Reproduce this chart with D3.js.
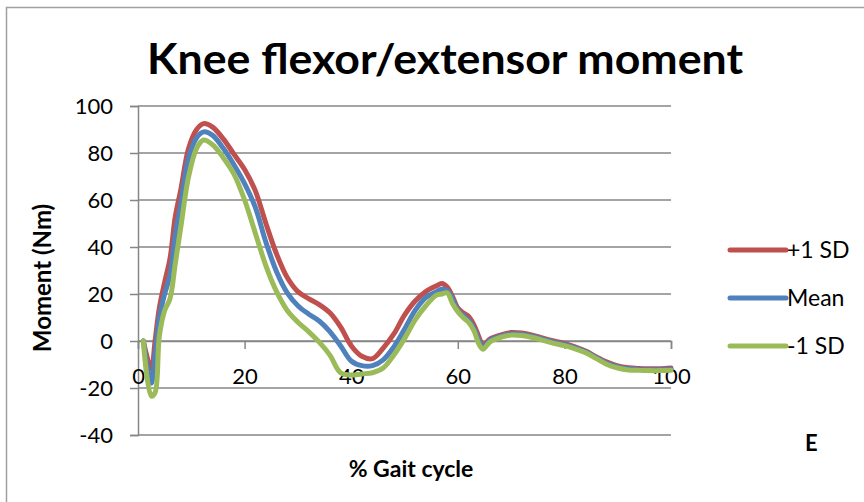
<!DOCTYPE html>
<html>
<head>
<meta charset="utf-8">
<script src="https://cdn.jsdelivr.net/npm/d3@7"></script>
<style>
  body { margin: 0; background: #fff; }
  svg { display: block; font-family: Lato, "Open Sans", sans-serif; }
</style>
</head>
<body>
<div id="chart"></div>
<script>
'use strict';

// % gait cycle sample points (shared by all three series)
const gait = [1, 2.5, 3.2, 4, 5, 6, 7, 8, 9.5, 11, 12.3, 14, 16, 18, 20, 22, 24, 26, 28, 30, 32, 34, 36, 38, 40,
    42, 44, 46, 48, 50, 52, 54, 56, 57, 58, 59, 60, 61, 62, 63, 64, 64.7, 66, 68, 70, 72, 74, 76, 78, 80,
    82, 84, 86, 88, 90, 92, 94, 96, 98, 100];

const plusSD = [0, -12, 0, 14, 25, 35, 53, 64, 82, 90, 92.5, 91, 86, 79.5, 73, 64, 50, 37, 27, 21, 18, 15.5, 12, 6, -2,
    -6.5, -7.5, -3, 3, 11, 17, 21, 23.5, 24.5, 23, 19, 14, 12, 10.5, 7, 1.5, -2, 0.8, 2.5, 3.6, 3.4, 2.5, 1.2, 0, -1,
    -2.5, -4.3, -6.8, -9, -10.6, -11.4, -11.7, -11.8, -11.8, -11.5];

const mean = [0, -18, -6, 10, 20, 28, 45, 58, 78, 86.5, 89, 87.5, 82, 75, 67, 57, 42, 29.5, 20.5, 15, 11.5, 8.5, 4, -2, -8.5,
    -10.5, -10.5, -8, -2.5, 5, 13, 18.5, 21, 22, 21.5, 18, 13, 11, 9, 5.5, 0, -3, 0.3, 2, 3, 2.9, 2, 0.8, -0.5, -1.5,
    -2.9, -4.6, -7.1, -9.5, -11, -11.8, -12.1, -12.2, -12.2, -12];

const minusSD = [0, -23.5, -22, 2, 13, 18, 33, 48, 70, 82, 85.5, 83.5, 78, 71, 60, 46, 32, 21, 13, 8, 4, -0.5, -6, -13.5, -14.5,
    -14, -13.5, -11.5, -6, 1, 9, 15, 19.5, 20, 20.5, 16, 12.5, 10, 8, 4.5, -1.5, -3.5, -0.5, 1.5, 2.5, 2.3, 1.5, 0.3, -1, -2,
    -3.3, -5, -7.5, -10, -11.5, -12.3, -12.5, -12.6, -12.6, -12.5];

const seriesNames = ['+1 SD', 'Mean', '-1 SD'];
const seriesColors = ['#c0504d', '#4f81bd', '#9bbb59'];
const xTicks = [0, 20, 40, 60, 80, 100];
const yTicks = [-40, -20, 0, 20, 40, 60, 80, 100];

const width = 864, height = 502;
const margin = {top: 106, right: 193, bottom: 67, left: 138};

const svg = d3.select('#chart').append('svg')
    .attr('width', width)
    .attr('height', height);

// outer frame (top and left edges only are visible)
svg.append('path')
    .attr('d', 'M6.5,502 V7.5 H864')
    .attr('fill', 'none')
    .attr('stroke', '#a0a0a0')
    .attr('stroke-width', 1.5);

const x = d3.scaleLinear().domain([0, 100]).range([margin.left, width - margin.right]);
const y = d3.scaleLinear().domain([-40, 100]).range([height - margin.bottom, margin.top]);

const gridColor = '#868686';

// horizontal gridlines
svg.append('g')
    .selectAll('line')
    .data(yTicks)
    .join('line')
        .attr('x1', x(0))
        .attr('x2', x(100))
        .attr('y1', d => y(d))
        .attr('y2', d => y(d))
        .attr('stroke', gridColor)
        .attr('stroke-width', 1.5);

// y axis
const yAxis = svg.append('g')
    .attr('transform', `translate(${x(0)},0)`)
    .call(d3.axisLeft(y).tickValues(yTicks).tickSize(8).tickPadding(17).tickFormat(d => d));
yAxis.select('.domain').attr('stroke', gridColor).attr('stroke-width', 1.5);
yAxis.selectAll('.tick line').attr('stroke', gridColor).attr('stroke-width', 1.5);
yAxis.selectAll('.tick text')
    .attr('font-size', 22)
    .attr('font-family', 'Lato, sans-serif')
    .attr('fill', '#000');

// x axis crossing at zero
const xAxis = svg.append('g')
    .attr('transform', `translate(0,${y(0)})`)
    .call(d3.axisBottom(x).tickValues(xTicks).tickSize(8).tickPadding(19).tickFormat(d => d));
xAxis.select('.domain').attr('stroke', gridColor).attr('stroke-width', 1.5);
xAxis.selectAll('.tick line').attr('stroke', gridColor).attr('stroke-width', 1.5);
xAxis.selectAll('.tick text')
    .attr('font-size', 22)
    .attr('font-family', 'Lato, sans-serif')
    .attr('fill', '#000');

// series lines
const line = d3.line()
    .x(d => x(d[0]))
    .y(d => y(d[1]))
    .curve(d3.curveCatmullRom.alpha(0.5));

const allSeries = [plusSD, mean, minusSD];
svg.append('g')
    .selectAll('path')
    .data(allSeries.map((vals, i) => ({i, pts: gait.map((g, j) => [g, vals[j]])})))
    .join('path')
        .attr('d', d => line(d.pts))
        .attr('fill', 'none')
        .attr('stroke', d => seriesColors[d.i])
        .attr('stroke-width', 5)
        .attr('stroke-linejoin', 'round')
        .attr('stroke-linecap', 'round');

// title
svg.append('text')
    .attr('x', 445)
    .attr('y', 74)
    .attr('text-anchor', 'middle')
    .attr('font-size', 42)
    .attr('font-weight', 'bold')
    .attr('textLength', 596)
    .attr('lengthAdjust', 'spacingAndGlyphs')
    .text('Knee flexor/extensor moment');

// axis titles
svg.append('text')
    .attr('transform', 'translate(51,278) rotate(-90)')
    .attr('text-anchor', 'middle')
    .attr('font-size', 24)
    .attr('font-weight', 'bold')
    .text('Moment (Nm)');

svg.append('text')
    .attr('x', 411)
    .attr('y', 477)
    .attr('text-anchor', 'middle')
    .attr('font-size', 23)
    .attr('font-weight', 'bold')
    .text('% Gait cycle');

// legend
const legend = svg.append('g')
    .selectAll('g')
    .data(seriesNames)
    .join('g')
        .attr('transform', (d, i) => `translate(730,${250 + i * 48})`);
legend.append('line')
    .attr('x1', 0).attr('x2', 56)
    .attr('stroke', (d, i) => seriesColors[i])
    .attr('stroke-width', 5)
    .attr('stroke-linecap', 'round');
legend.append('text')
    .attr('x', 57)
    .attr('y', 8)
    .attr('font-size', 23)
    .text(d => d);

// panel letter
svg.append('text')
    .attr('x', 805)
    .attr('y', 451)
    .attr('font-size', 22)
    .attr('font-weight', 'bold')
    .text('E');
</script>
</body>
</html>
